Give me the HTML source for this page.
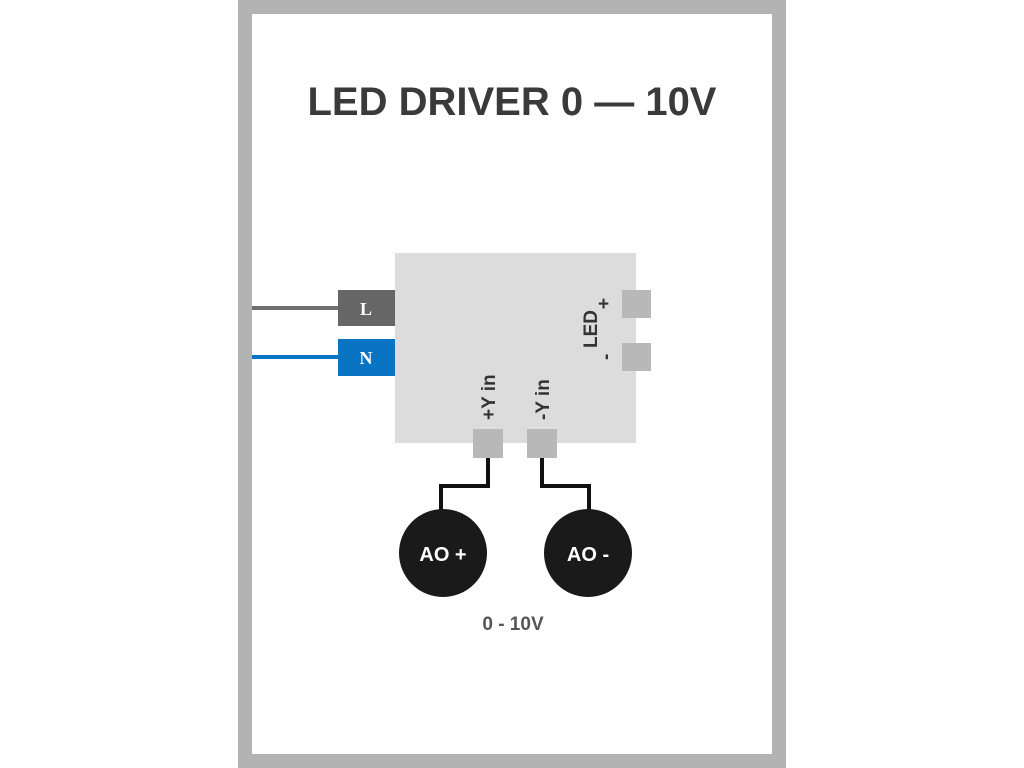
<!DOCTYPE html>
<html><head><meta charset="utf-8"><style>
html,body{margin:0;padding:0;background:#fff;}
svg{display:block;}
</style></head><body>
<svg width="1024" height="768" viewBox="0 0 1024 768" xmlns="http://www.w3.org/2000/svg">
<rect x="0" y="0" width="1024" height="768" fill="#fff"/>
<rect x="245" y="7" width="534" height="754" fill="#fff" stroke="#b3b3b3" stroke-width="14"/>
<text x="512" y="115" text-anchor="middle" font-family="Liberation Sans, sans-serif" font-weight="bold" font-size="40" fill="#3a3a3a">LED DRIVER 0 — 10V</text>
<line x1="252" y1="308" x2="340" y2="308" stroke="#707070" stroke-width="4"/>
<line x1="252" y1="357" x2="340" y2="357" stroke="#0a74c4" stroke-width="4"/>
<rect x="395" y="253" width="241" height="190" fill="#dcdcdc"/>
<rect x="338" y="290" width="57" height="36" fill="#666"/>
<rect x="338" y="339" width="57" height="37" fill="#0a74c4"/>
<text x="366" y="315" text-anchor="middle" font-family="Liberation Serif, serif" font-weight="bold" font-size="18" fill="#fff">L</text>
<text x="366" y="364" text-anchor="middle" font-family="Liberation Serif, serif" font-weight="bold" font-size="18" fill="#fff">N</text>
<rect x="622" y="290" width="29" height="28" fill="#b8b8b8"/>
<rect x="622" y="343" width="29" height="28" fill="#b8b8b8"/>
<rect x="473" y="429" width="30" height="29" fill="#b8b8b8"/>
<rect x="527" y="429" width="30" height="29" fill="#b8b8b8"/>
<polyline points="488,458 488,486 441,486 441,512" fill="none" stroke="#111" stroke-width="4"/>
<polyline points="542,458 542,486 589,486 589,512" fill="none" stroke="#111" stroke-width="4"/>
<circle cx="443" cy="553" r="44" fill="#1a1a1a"/>
<circle cx="588" cy="553" r="44" fill="#1a1a1a"/>
<text x="443" y="561" text-anchor="middle" font-family="Liberation Sans, sans-serif" font-weight="bold" font-size="20" fill="#fff">AO +</text>
<text x="588" y="561" text-anchor="middle" font-family="Liberation Sans, sans-serif" font-weight="bold" font-size="20" fill="#fff">AO -</text>
<text x="513" y="630" text-anchor="middle" font-family="Liberation Sans, sans-serif" font-weight="bold" font-size="19" fill="#555">0 - 10V</text>
<g font-family="Liberation Sans, sans-serif" font-weight="bold" font-size="19" fill="#333">
<text transform="translate(495,420) rotate(-90)">+Y in</text>
<text transform="translate(549,420) rotate(-90)">-Y in</text>
<text transform="translate(597,348) rotate(-90)">LED</text>
<text x="598" y="310">+</text>
<text transform="translate(612,360) rotate(-90)">-</text>
</g>
</svg>
</body></html>
